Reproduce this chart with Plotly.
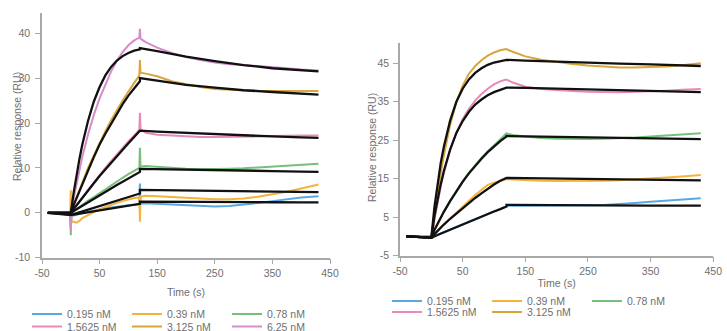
import plotly.graph_objects as go

# ---------------- data ----------------
T_FIT = [-40, 0, 5, 10, 15, 20, 30, 40, 50, 60, 70, 80, 90, 100, 110, 120,
         120, 150, 200, 250, 300, 350, 400, 430]
T_DATA = [-40, -1, 0, 1, 5, 10, 15, 20, 30, 40, 50, 60, 70, 80, 90, 100, 110, 119,
          120, 121, 130, 150, 175, 200, 225, 250, 275, 300, 325, 350, 375, 400, 430]

CONC_LEFT = ["0.195 nM", "0.39 nM", "0.78 nM", "1.5625 nM", "3.125 nM", "6.25 nM"]
CONC_RIGHT = ["0.195 nM", "0.39 nM", "0.78 nM", "1.5625 nM", "3.125 nM"]
COLORS = ["#58a9e3", "#f3b43c", "#78c07a", "#e889b6", "#d8a73c", "#d68ccc"]

# left panel – measured responses
L_0195 = [0, 0, -3.0, -0.6, -0.6, -0.5, -0.3, -0.1, 0.2, 0.5, 0.8, 1.0, 1.2, 1.4, 1.5, 1.7, 1.8, 1.9,
          6.5, 2.0, 2.1, 2.0, 1.8, 1.6, 1.5, 1.4, 1.5, 1.8, 2.2, 2.6, 3.0, 3.4, 3.7]
L_039 = [0, 0, 5.0, -2.0, -2.0, -2.2, -1.8, -1.2, -0.5, 0.2, 0.8, 1.3, 1.8, 2.2, 2.6, 3.0, 3.3, 3.4,
         -2.0, 3.6, 3.8, 3.7, 3.5, 3.3, 3.1, 3.0, 3.0, 3.2, 3.6, 4.1, 4.7, 5.4, 6.3]
L_078 = [0, 0, -5.0, -0.3, 0.3, 0.8, 1.3, 1.8, 2.7, 3.5, 4.4, 5.3, 6.1, 7.0, 7.8, 8.6, 9.3, 10.0,
         14.5, 10.3, 10.4, 10.2, 10.0, 9.8, 9.7, 9.7, 9.8, 9.9, 10.1, 10.3, 10.5, 10.7, 10.9]
L_15625 = [0, 0, -4.0, 0, 0.8, 1.7, 2.6, 3.4, 5.1, 6.7, 8.4, 10.0, 11.5, 13.0, 14.5, 15.9, 17.2, 18.5,
           22.3, 18.6, 17.8, 17.4, 17.2, 17.0, 16.9, 16.9, 16.9, 17.0, 17.0, 17.1, 17.2, 17.2, 17.2]
L_3125 = [0, 0, -2.0, 0, 1.8, 3.5, 5.2, 6.8, 10.0, 12.8, 15.6, 18.2, 20.6, 22.9, 25.0, 27.0, 28.9, 30.6,
          34.0, 31.2, 31.0, 30.4, 29.3, 28.6, 28.0, 27.6, 27.4, 27.3, 27.2, 27.2, 27.1, 27.1, 27.1]
L_625 = [0, 0, -3.0, 0, 3.3, 6.5, 9.7, 12.5, 17.5, 21.8, 25.5, 28.7, 31.5, 33.8, 35.8, 37.3, 38.4, 39.0,
         41.0, 38.8, 38.0, 36.8, 35.6, 34.7, 34.0, 33.5, 33.1, 32.9, 32.7, 32.5, 32.2, 31.9, 31.7]

# left panel – fitted curves
LF_0195 = [0, -0.5, -0.4, -0.3, -0.2, -0.1, 0.1, 0.3, 0.5, 0.7, 0.9, 1.1, 1.35, 1.55, 1.8, 2.0,
           2.5, 2.5, 2.45, 2.4, 2.4, 2.35, 2.3, 2.3]
LF_039 = [0, -0.5, -0.3, -0.1, 0.1, 0.3, 0.7, 1.1, 1.5, 1.9, 2.3, 2.7, 3.1, 3.5, 3.9, 4.3,
          5.1, 5.05, 4.95, 4.85, 4.8, 4.7, 4.65, 4.6]
LF_078 = [0, 0, 0.4, 0.8, 1.2, 1.6, 2.4, 3.1, 3.9, 4.7, 5.4, 6.2, 6.9, 7.6, 8.4, 9.1,
          9.8, 9.75, 9.6, 9.5, 9.4, 9.3, 9.15, 9.1]
LF_15625 = [0, 0, 0.85, 1.7, 2.55, 3.4, 5.0, 6.6, 8.2, 9.7, 11.2, 12.7, 14.1, 15.5, 16.9, 18.2,
            18.3, 18.1, 17.8, 17.5, 17.2, 17.0, 16.8, 16.7]
LF_3125 = [0, 0, 1.7, 3.3, 4.9, 6.4, 9.4, 12.4, 15.2, 17.6, 19.9, 22.1, 24.2, 26.1, 27.8, 29.3,
           30.0, 29.4, 28.5, 27.9, 27.3, 26.9, 26.5, 26.3]
LF_625 = [0, 0, 4.5, 8.5, 12.0, 15.2, 20.5, 24.8, 28.0, 30.6, 32.5, 33.9, 34.9, 35.6, 36.1, 36.4,
          36.7, 36.0, 34.8, 33.8, 32.9, 32.2, 31.7, 31.5]

# right panel – measured responses
R_0195 = [0, 0, -0.4, -0.4, -0.1, 0.4, 0.8, 1.1, 1.8, 2.4, 3.1, 3.8, 4.4, 5.1, 5.8, 6.5, 7.1, 7.7,
          7.8, 8.0, 8.0, 8.0, 8.0, 8.0, 8.05, 8.1, 8.2, 8.4, 8.7, 9.0, 9.3, 9.6, 9.9]
R_039 = [0, 0, -0.4, -0.4, 0.3, 1.5, 2.3, 3.1, 4.7, 6.3, 7.8, 9.3, 10.8, 12.2, 13.4, 14.0, 14.5, 14.9,
         15.0, 14.9, 14.8, 14.6, 14.5, 14.4, 14.4, 14.4, 14.5, 14.6, 14.8, 15.0, 15.3, 15.6, 16.0]
R_078 = [0, 0, -0.4, -0.4, 1.7, 3.4, 5.0, 6.5, 9.3, 12.0, 14.4, 16.6, 18.6, 20.4, 22.1, 23.7, 25.2, 26.5,
         26.8, 26.7, 26.4, 26.0, 25.6, 25.4, 25.3, 25.3, 25.4, 25.5, 25.7, 26.0, 26.3, 26.6, 26.8]
R_15625 = [0, 0, -0.4, -0.4, 4.5, 9.0, 13.0, 16.5, 22.5, 27.0, 30.5, 33.2, 35.3, 37.0, 38.4, 39.5, 40.3, 40.8,
           40.8, 40.7, 40.0, 38.9, 38.3, 38.0, 37.8, 37.6, 37.5, 37.5, 37.6, 37.7, 37.9, 38.1, 38.3]
R_3125 = [0, 0, -0.4, -0.4, 6.0, 11.5, 16.5, 21.0, 29.0, 35.0, 39.2, 42.3, 44.3, 45.8, 47.0, 47.8, 48.4, 48.7,
          48.7, 48.6, 48.0, 46.8, 45.9, 45.3, 44.8, 44.4, 44.1, 43.9, 43.9, 44.0, 44.2, 44.5, 45.0]

# right panel – fitted curves
RF_0195 = [0, -0.3, 0.05, 0.4, 0.75, 1.1, 1.8, 2.4, 3.1, 3.8, 4.4, 5.1, 5.8, 6.5, 7.1, 7.8,
           8.2, 8.15, 8.1, 8.1, 8.05, 8.0, 8.0, 8.0]
RF_039 = [0, -0.3, 0.6, 1.5, 2.3, 3.1, 4.6, 6.0, 7.4, 8.7, 10.0, 11.2, 12.4, 13.5, 14.5, 15.2,
          15.2, 15.15, 15.05, 14.95, 14.85, 14.75, 14.65, 14.6]
RF_078 = [0, -0.3, 1.7, 3.4, 5.0, 6.4, 9.2, 11.8, 14.2, 16.4, 18.4, 20.2, 21.9, 23.4, 24.8, 26.0,
          26.1, 26.0, 25.85, 25.7, 25.6, 25.5, 25.4, 25.3]
RF_15625 = [0, -0.3, 5.3, 9.7, 13.6, 17.0, 22.6, 26.9, 30.0, 32.4, 34.3, 35.6, 36.7, 37.5, 38.1, 38.6,
            38.7, 38.6, 38.4, 38.2, 38.0, 37.8, 37.6, 37.5]
RF_3125 = [0, -0.3, 7.7, 14.0, 19.1, 23.3, 30.1, 35.0, 38.4, 40.8, 42.5, 43.7, 44.6, 45.2, 45.6, 45.8,
           45.9, 45.7, 45.4, 45.1, 44.9, 44.7, 44.5, 44.3]

X_TICKS = [-50, 50, 150, 250, 350, 450]
X_TICK_TEXT = ["-50", "50", "150", "250", "350", "450"]
Y_TICKS_LEFT = [-10, 0, 10, 20, 30, 40]
Y_TICK_TEXT_LEFT = ["-10", "0", "10", "20", "30", "40"]
Y_TICKS_RIGHT = [-5, 5, 15, 25, 35, 45]
Y_TICK_TEXT_RIGHT = ["-5", "5", "15", "25", "35", "45"]
X_TITLE = "Time (s)"
Y_TITLE = "Relative response (RU)"

LEFT_DATA = [L_0195, L_039, L_078, L_15625, L_3125, L_625]
LEFT_FITS = [LF_0195, LF_039, LF_078, LF_15625, LF_3125, LF_625]
RIGHT_DATA = [R_0195, R_039, R_078, R_15625, R_3125]
RIGHT_FITS = [RF_0195, RF_039, RF_078, RF_15625, RF_3125]

# ---------------- figure ----------------
W, H = 727, 331
FONT = "Liberation Sans, Arial, sans-serif"
GREY = "#6f6f6f"
AXC = "#a8a8a8"

fig = go.Figure()

for i, (name, ys) in enumerate(zip(CONC_LEFT, LEFT_DATA)):
    fig.add_trace(go.Scatter(x=T_DATA, y=ys, mode="lines", name=name,
                             line=dict(color=COLORS[i], width=2),
                             xaxis="x", yaxis="y",
                             legend="legend" if i < 3 else "legend2"))
for ys in LEFT_FITS:
    fig.add_trace(go.Scatter(x=T_FIT, y=ys, mode="lines", showlegend=False,
                             line=dict(color="#111111", width=2.3),
                             xaxis="x", yaxis="y"))

for i, (name, ys) in enumerate(zip(CONC_RIGHT, RIGHT_DATA)):
    fig.add_trace(go.Scatter(x=T_DATA, y=ys, mode="lines", name=name,
                             line=dict(color=COLORS[i], width=2),
                             xaxis="x2", yaxis="y2",
                             legend="legend3" if i < 3 else "legend4"))
for ys in RIGHT_FITS:
    fig.add_trace(go.Scatter(x=T_FIT, y=ys, mode="lines", showlegend=False,
                             line=dict(color="#111111", width=2.3),
                             xaxis="x2", yaxis="y2"))


def px_x(p):
    return p / W


def px_y(p):
    return (H - p) / H


axis_common = dict(showline=True, linecolor=AXC, linewidth=1.5, ticks="outside",
                   ticklen=5, tickcolor=AXC, tickwidth=1.2, showgrid=False,
                   zeroline=False, tickfont=dict(family=FONT, size=10.5, color=GREY),
                   automargin=False, ticklabeloverflow="allow")
title_font = dict(family=FONT, size=10.5, color=GREY)

fig.update_layout(
    width=W, height=H,
    margin=dict(l=0, r=0, t=0, b=0, autoexpand=False),
    paper_bgcolor="white", plot_bgcolor="white",
    font=dict(family=FONT, size=10.5, color=GREY),
    xaxis=dict(domain=[px_x(42), px_x(330)], range=[-50, 450],
               tickvals=X_TICKS, ticktext=X_TICK_TEXT, anchor="y",
               title=dict(text=X_TITLE, standoff=11, font=title_font), **axis_common),
    yaxis=dict(domain=[px_y(257.7), px_y(13)], range=[-10, 44.5],
               tickvals=Y_TICKS_LEFT, ticktext=Y_TICK_TEXT_LEFT, anchor="x",
               ticklabelstandoff=3, **axis_common),
    xaxis2=dict(domain=[px_x(400), px_x(713.3)], range=[-50, 450],
                tickvals=X_TICKS, ticktext=X_TICK_TEXT, anchor="y2",
                title=dict(text=X_TITLE, standoff=4, font=title_font), **axis_common),
    yaxis2=dict(domain=[px_y(255.7), px_y(43.3)], range=[-5, 50.2],
                tickvals=Y_TICKS_RIGHT, ticktext=Y_TICK_TEXT_RIGHT, anchor="x2",
                ticklabelstandoff=2, **axis_common),
    annotations=[
        dict(text=Y_TITLE, textangle=-90, xref="paper", yref="paper",
             x=px_x(17), y=px_y(127), xanchor="center", yanchor="middle",
             showarrow=False, font=title_font),
        dict(text=Y_TITLE, textangle=-90, xref="paper", yref="paper",
             x=px_x(372), y=px_y(148), xanchor="center", yanchor="middle",
             showarrow=False, font=title_font),
    ],
)

legend_common = dict(orientation="h", xanchor="left", yanchor="middle",
                     bgcolor="rgba(0,0,0,0)", entrywidth=55, entrywidthmode="pixels",
                     font=dict(family=FONT, size=10.5, color=GREY), itemclick=False,
                     itemdoubleclick=False)
fig.update_layout(
    legend=dict(x=px_x(27), y=px_y(314), **legend_common),
    legend2=dict(x=px_x(27), y=px_y(326.5), **legend_common),
    legend3=dict(x=px_x(387), y=px_y(301), **legend_common),
    legend4=dict(x=px_x(387), y=px_y(312), **legend_common),
)

fig.write_html("out.html", config={"displayModeBar": False},
               post_script="document.body.style.margin='0px';")
